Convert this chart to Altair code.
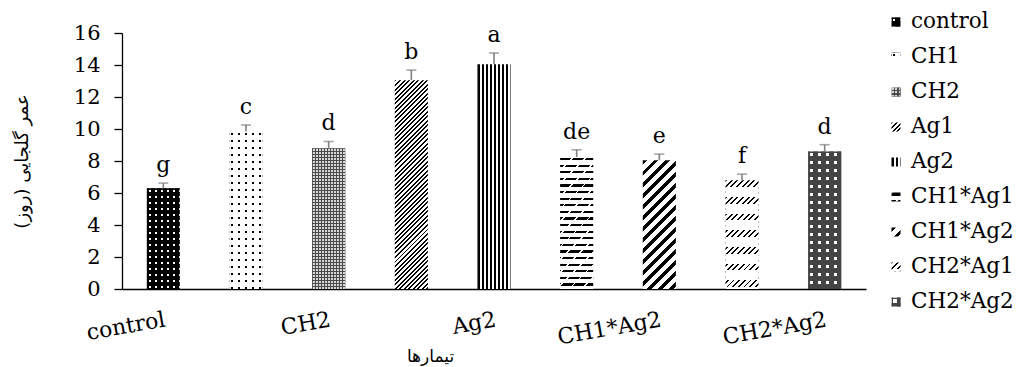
import math
import altair as alt
import pandas as pd

# ---------------- data ----------------
treatments = ["control", "CH1", "CH2", "Ag1", "Ag2", "CH1*Ag1", "CH1*Ag2", "CH2*Ag1", "CH2*Ag2"]
means = [6.3, 9.85, 8.8, 13.05, 14.05, 8.25, 8.05, 6.8, 8.6]
errors = [0.32, 0.4, 0.42, 0.63, 0.7, 0.45, 0.38, 0.38, 0.42]
letters = ["g", "c", "d", "b", "a", "de", "e", "f", "d"]
x_labels_shown = ["control", "CH2", "Ag2", "CH1*Ag2", "CH2*Ag2"]
y_ticks = [0, 2, 4, 6, 8, 10, 12, 14, 16]
y_title = "عمر گلجایی (روز)"
x_title = "تیمارها"

# ---------------- layout ----------------
W, H = 744, 256
YMAX = 16
BW = W / 9 * 0.4
SERIF = "DejaVu Serif"
ARAB = "DejaVu Sans"
T = "rgba(0,0,0,0)"

df = pd.DataFrame({"treatment": treatments, "mean": means, "err": errors, "letter": letters})
df["top"] = df["mean"] + df["err"]


# ---------------- pattern helpers (gradient stripes) ----------------
def stops_from(L, P, D, on, off, phase=0.0):
    out = []
    pos = phase - P
    while pos < L:
        for o, col in ((pos, on), (pos + D, on), (pos + D, off), (pos + P, off)):
            out.append({"offset": round(min(max(o / L, 0.0), 1.0), 5), "color": col})
        pos += P
    return out


def rows(w, h, P, D, on, off, phase=0.0):
    return {"gradient": "linear", "x1": 0, "y1": 0, "x2": 0, "y2": 1,
            "stops": stops_from(h, P, D, on, off, phase)}


def cols(w, h, P, D, on, off, phase=0.0):
    return {"gradient": "linear", "x1": 0, "y1": 0, "x2": 1, "y2": 0,
            "stops": stops_from(w, P, D, on, off, phase)}


def diag(w, h, P, D, on, off, phase=0.0):
    t = (w + h) / (w * w + h * h)
    L = (w + h) / math.sqrt(2)
    return {"gradient": "linear", "x1": 0, "y1": 0, "x2": round(t * w, 6), "y2": round(t * h, 6),
            "stops": stops_from(L, P, D, on, off, phase)}


def pattern(name, w, h):
    if name == "control":
        return ["black", rows(w, h, 6, 2, "white", T, 2), cols(w, h, 6, 2, T, "black", 2)]
    if name == "CH1":
        return ["white", rows(w, h, 7, 2, "black", T, 2), cols(w, h, 7, 2, T, "white", 2)]
    if name == "CH2":
        return ["#4a4a4a", rows(w, h, 3, 1.5, "#d8d8d8", T, 1), cols(w, h, 3, 1.5, T, "#4a4a4a", 1)]
    if name == "Ag1":
        return ["white", diag(w, h, 3.2, 1.4, "black", T)]
    if name == "Ag2":
        return ["white", cols(w, h, 4.1, 2.2, "black", T)]
    if name == "CH1*Ag1":
        return ["white", rows(w, h, 6.6, 2.2, "black", T, 1), diag(w, h, 9, 1.2, "white", T)]
    if name == "CH1*Ag2":
        return ["white", diag(w, h, 7.8, 3.5, "black", T)]
    if name == "CH2*Ag1":
        return ["white", diag(w, h, 4.0, 1.3, "black", T), rows(w, h, 16.7, 6.7, T, "white", 0)]
    if name == "CH2*Ag2":
        return ["#444444", rows(w, h, 8, 3, "white", T, 2), cols(w, h, 8, 3, T, "#444444", 2)]
    return ["gray"]


# ---------------- encodings ----------------
x_axis = alt.Axis(values=x_labels_shown, ticks=False, tickSize=0, labelAngle=350,
                  labelAlign="right", labelBaseline="top", labelPadding=20,
                  labelFont=SERIF, labelFontSize=22, labelColor="black",
                  domainColor="black", domainWidth=1.5, grid=False,
                  title=x_title, titleFont=ARAB, titleFontSize=17, titleFontWeight="normal",
                  titleColor="black", titleX=308, titleY=67, titleBaseline="middle",
                  titleAlign="center", titleAnchor="start")
xenc = alt.X("treatment:N", sort=treatments,
             scale=alt.Scale(domain=treatments, paddingInner=0.6, paddingOuter=0.3),
             axis=x_axis)

y_axis = alt.Axis(values=y_ticks, tickSize=8, tickColor="black", tickWidth=1.3,
                  labelPadding=14, labelFont=SERIF, labelFontSize=21, labelColor="black",
                  domainColor="black", domainWidth=1.3, grid=False,
                  title=y_title, titleFont=ARAB, titleFontSize=18, titleFontWeight="normal",
                  titleColor="black", titleAngle=270, titleX=-100, titleY=128,
                  titleBaseline="middle", titleAlign="center")
yscale = alt.Scale(domain=[0, YMAX], nice=False, zero=True)


def yenc(field):
    return alt.Y(f"{field}:Q", scale=yscale, axis=y_axis)


base = alt.Chart(df)
layers = []
for t, m in zip(treatments, means):
    h = m / YMAX * H
    for fill in pattern(t, BW, h):
        layers.append(
            base.transform_filter(alt.datum.treatment == t)
            .mark_bar(fill=fill, width=BW, opacity=1, strokeWidth=0)
            .encode(x=xenc, y=yenc("mean"))
        )

err_rule = base.mark_rule(color="#808080", strokeWidth=1.6).encode(
    x=xenc, y=yenc("mean"), y2="top:Q")
err_cap = base.mark_tick(color="#808080", thickness=1.6, size=10).encode(
    x=xenc, y=yenc("top"))
letter_txt = base.mark_text(font=SERIF, fontSize=22, baseline="alphabetic", dy=-11,
                            color="black").encode(x=xenc, y=yenc("top"), text="letter:N")

main = alt.layer(*layers, err_rule, err_cap, letter_txt)

# ---------------- legend ----------------
ly = alt.Y("treatment:N", sort=treatments,
           scale=alt.Scale(type="point", domain=treatments, range=[-11, 269], padding=0),
           axis=None)
leg_layers = []
for t in treatments:
    for fill in pattern(t, 9, 9):
        leg_layers.append(
            base.transform_filter(alt.datum.treatment == t)
            .mark_square(size=81, fill=fill, filled=True, opacity=1, strokeWidth=0)
            .encode(y=ly, x=alt.value(774))
        )
leg_text = base.mark_text(align="left", baseline="middle", font=SERIF, fontSize=21.5,
                          color="black").encode(y=ly, x=alt.value(789), text="treatment:N")
legend = alt.layer(*leg_layers, leg_text)

chart = (
    alt.layer(main, legend)
    .resolve_scale(y="independent")
    .properties(width=W, height=H, background="white",
                autosize=alt.AutoSizeParams(type="none"),
                padding={"left": 122, "top": 33, "right": 153, "bottom": 78})
    .configure_view(stroke=None)
)

chart.save("out.html", embed_options={"renderer": "svg", "actions": False})
